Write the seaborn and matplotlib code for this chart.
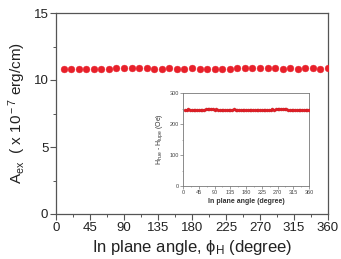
import numpy as np
import pandas as pd
import seaborn as sns
import matplotlib
matplotlib.use("Agg")
import matplotlib.pyplot as plt
from matplotlib.ticker import MultipleLocator

# main data: in-plane angle (deg) vs exchange stiffness A_ex (x1e-7 erg/cm)
angles = list(range(10, 361, 10))
aex = [10.85, 10.85, 10.85, 10.85, 10.8, 10.82, 10.85, 10.88, 10.9, 10.9,
       10.88, 10.86, 10.85, 10.85, 10.86, 10.85, 10.84, 10.86, 10.85, 10.82,
       10.82, 10.85, 10.85, 10.88, 10.9, 10.92, 10.9, 10.88, 10.86, 10.85,
       10.86, 10.84, 10.86, 10.86, 10.85, 10.86]

# inset data: in-plane angle vs H_hard - H_easy (Oe)
inset_angles = list(range(5, 361, 5))
inset_vals = [246, 246, 247, 246, 245, 246, 244, 245, 246, 245,
              246, 246, 247, 248, 249, 248, 247, 246, 247, 246,
              245, 246, 246, 246, 246, 245, 246, 246, 247, 246,
              246, 246, 245, 246, 245, 244, 245, 244, 245, 246,
              245, 246, 246, 245, 244, 245, 244, 245, 246, 246,
              247, 246, 247, 248, 248, 249, 248, 247, 247, 246,
              246, 245, 246, 245, 246, 246, 245, 246, 245, 246,
              246, 246]

df = pd.DataFrame({"angle": angles, "aex": aex})
dfi = pd.DataFrame({"angle": inset_angles, "h": inset_vals})

sns.set_theme(style="white")
plt.rcParams['font.family'] = ['Liberation Sans', 'DejaVu Sans']
plt.rcParams['mathtext.fontset'] = 'custom'
plt.rcParams['mathtext.rm'] = 'Liberation Sans'
plt.rcParams['mathtext.it'] = 'Liberation Sans:italic'

fig = plt.figure(figsize=(3.41, 2.59), dpi=100)
ax = fig.add_axes([56/341, 1 - 214/259, 272/341, 201/259])

red = "#e8202a"
sns.scatterplot(data=df, x="angle", y="aex", ax=ax, color=red, s=24,
                edgecolor=red, linewidth=0.3, zorder=3, legend=False)
ax.set_xlim(0, 360)
ax.set_ylim(0, 15)
ax.xaxis.set_major_locator(MultipleLocator(45))
ax.xaxis.set_minor_locator(MultipleLocator(22.5))
ax.yaxis.set_major_locator(MultipleLocator(5))
ax.yaxis.set_minor_locator(MultipleLocator(2.5))
spc = "#555555"
for s in ax.spines.values():
    s.set_color(spc)
    s.set_linewidth(0.9)
ax.tick_params(which="major", direction="out", length=4, width=0.8, color=spc,
               labelsize=9.5, pad=1.5, bottom=True, left=True)
ax.tick_params(which="minor", direction="out", length=2.2, width=0.7, color=spc,
               bottom=True, left=True)
ax.tick_params(axis="both", which="both", labelcolor="#222222")
ax.set_xlabel("In plane angle, \u03d5$_{\\rm H}$ (degree)", fontsize=12, labelpad=3, color="#222222")
ax.set_ylabel(r"A$_{\rm ex}$  ( x 10$^{\rm -7}$ erg/cm)", fontsize=11, labelpad=4, color="#222222")

# inset
axi = fig.add_axes([183/341, 1 - 186/259, 126/341, 93/259])
sns.scatterplot(data=dfi, x="angle", y="h", ax=axi, color=red, s=5,
                edgecolor="#b01818", linewidth=0.2, zorder=3, legend=False)
axi.set_xlim(0, 360)
axi.set_ylim(0, 300)
axi.xaxis.set_major_locator(MultipleLocator(45))
axi.xaxis.set_minor_locator(MultipleLocator(22.5))
axi.yaxis.set_major_locator(MultipleLocator(100))
axi.yaxis.set_minor_locator(MultipleLocator(50))
for s in axi.spines.values():
    s.set_color("#777777")
    s.set_linewidth(0.6)
axi.tick_params(which="major", direction="out", length=2, width=0.5, color="#777777",
                labelsize=4, pad=1, bottom=True, left=True, labelcolor="#444444")
axi.tick_params(which="minor", direction="out", length=1, width=0.4, color="#777777",
                bottom=True, left=True)
axi.set_xlabel("In plane angle (degree)", fontsize=5, fontweight="bold", labelpad=2, color="#333333")
axi.set_ylabel(r"H$_{\rm hue}$ - H$_{\rm lupe}$ (Oe)", fontsize=5, labelpad=3, color="#333333")

fig.savefig("out.png", dpi=100)
